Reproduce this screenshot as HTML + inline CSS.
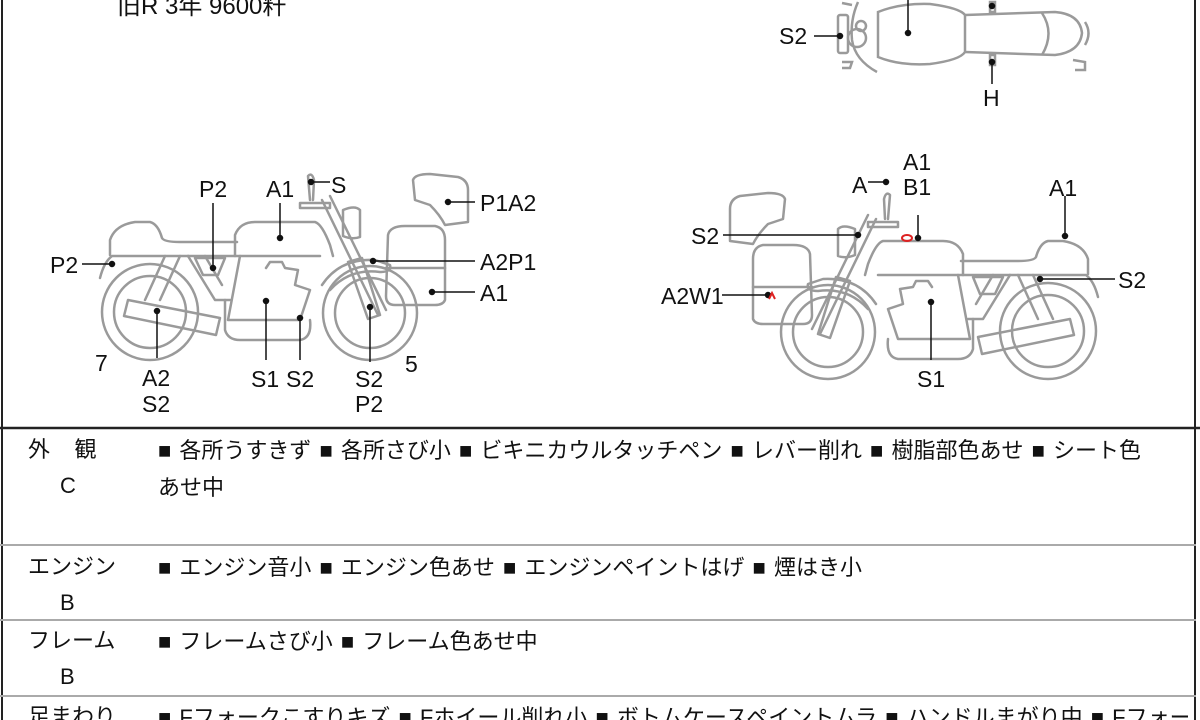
<!DOCTYPE html>
<html><head><meta charset="utf-8"><style>
html,body{margin:0;padding:0;background:#fff;}
body{width:1200px;height:720px;position:relative;overflow:hidden;font-family:"Liberation Sans","Noto Sans CJK JP",sans-serif;}
svg{position:absolute;left:0;top:0;}
.t{font-family:"Liberation Sans","Noto Sans CJK JP",sans-serif;font-size:23px;fill:#111;}
.row{position:absolute;left:0;width:1196px;font-size:22px;color:#111;overflow:hidden;}
.h{position:absolute;left:28px;width:100px;line-height:36px;}
.c{position:absolute;left:158px;width:1030px;line-height:37px;word-spacing:2px;white-space:nowrap;overflow:hidden;}
</style></head><body>
<svg width="1200" height="720" viewBox="0 0 1200 720">
<defs>
<g id="bike" fill="none" stroke="#9a9a9a" stroke-width="2.5" stroke-linejoin="round" stroke-linecap="round">
  <circle cx="150" cy="312" r="48"/><circle cx="150" cy="312" r="36"/>
  <circle cx="370" cy="313" r="47"/><circle cx="370" cy="313" r="35"/>
  <path d="M110 255 L110 240 Q115 225 135 222 L150 222 Q158 224 162 238 Q164 242 180 242 L237 242"/>
  <path d="M100 278 Q104 262 112 256 L320 256"/>
  <path d="M235 256 L235 235 Q240 222 255 222 L315 222 Q322 224 330 245 L333 256"/>
  <path d="M165 256 L145 300 M180 256 L160 300"/>
  <path d="M188 256 L215 300 L230 300 M205 256 L222 285"/>
  <path d="M195 258 L225 258 L218 275 L203 275 Z"/>
  <path d="M240 256 L228 320 L300 320 L310 290 L295 285 L298 270 L285 268 L282 262 L270 262 L266 268"/>
  <path d="M225 300 L225 330 Q228 340 240 340 L300 340 Q312 338 310 320"/>
  <path d="M128 300 L220 318 L216 335 L124 316 Z"/>
  <path d="M322 200 L378 315 M330 196 L386 310"/>
  <path d="M348 262 L362 258 L380 315 L368 319 Z"/>
  <path d="M300 203 L330 203 L330 208 L300 208 Z"/>
  <path d="M310 200 L308 176 Q312 172 314 180 L313 200"/>
  <path d="M343 210 Q355 205 360 210 L360 237 Q352 240 343 236 Z"/>
  <path d="M322 285 Q340 258 375 260 L390 265 Q392 272 380 272 Q350 268 330 290"/>
  <path d="M413 180 Q415 174 430 174 L458 177 Q468 180 468 190 L468 222 L445 225 Q440 215 430 205 L415 200 Z"/>
  <path d="M388 235 Q390 226 405 226 L435 226 Q445 228 445 240 L445 300 Q443 305 435 305 L395 305 Q386 305 386 296 Z"/>
  <path d="M386 268 L445 268"/>
</g>
</defs>
<text class="t" x="117" y="14" style="font-size:24px">旧R  3年     9600粁</text>
<line x1="2" y1="0" x2="2" y2="720" stroke="#222" stroke-width="2"/>
<line x1="1195" y1="0" x2="1195" y2="720" stroke="#222" stroke-width="2"/>

<g fill="none" stroke="#9a9a9a" stroke-width="2.5">
  <path d="M878 12 Q900 3 930 4 Q960 8 965 15 L965 52 Q960 60 930 64 Q900 66 878 57 Z"/>
  <path d="M965 15 L1055 12 Q1080 14 1082 33 Q1080 52 1055 55 L965 52"/>
  <path d="M1042 13 Q1055 33 1042 55"/>
  <path d="M1085 22 Q1092 33 1085 45"/>
  <path d="M858 2 Q850 20 852 40 Q855 60 877 72"/>
  <rect x="838" y="15" width="10" height="38" rx="2"/>
  <circle cx="857" cy="38" r="9"/><circle cx="861" cy="26" r="5"/>
  <path d="M842 3 L852 5 M842 62 L852 62 L850 68 L842 68"/>
  <path d="M1073 60 L1085 62 L1085 70 L1075 70"/>
  <rect x="990" y="2" width="5" height="10"/><rect x="990" y="55" width="5" height="10"/>
</g>
<g stroke="#111" stroke-width="1.5" fill="#111">
  <line x1="908" y1="0" x2="908" y2="33"/><circle cx="908" cy="33" r="2.5"/>
  <line x1="814" y1="36" x2="840" y2="36"/><circle cx="840" cy="36" r="2.5"/>
  <line x1="992" y1="62" x2="992" y2="84"/><circle cx="992" cy="62" r="2.5"/>
  <circle cx="992" cy="6" r="2.5"/>
</g>
<text class="t" x="779" y="44">S2</text>
<text class="t" x="983" y="106">H</text>

<use href="#bike"/>
<use href="#bike" transform="translate(1198,19) scale(-1,1)"/>

<g stroke="#111" stroke-width="1.5" fill="#111">
  <line x1="82" y1="264" x2="112" y2="264"/><circle cx="112" cy="264" r="2.5"/>
  <line x1="213" y1="203" x2="213" y2="268"/><circle cx="213" cy="268" r="2.5"/>
  <line x1="280" y1="203" x2="280" y2="238"/><circle cx="280" cy="238" r="2.5"/>
  <line x1="311" y1="182" x2="330" y2="182"/><circle cx="311" cy="182" r="2.5"/>
  <line x1="448" y1="202" x2="475" y2="202"/><circle cx="448" cy="202" r="2.5"/>
  <line x1="373" y1="261" x2="475" y2="261"/><circle cx="373" cy="261" r="2.5"/>
  <line x1="432" y1="292" x2="475" y2="292"/><circle cx="432" cy="292" r="2.5"/>
  <line x1="157" y1="311" x2="157" y2="358"/><circle cx="157" cy="311" r="2.5"/>
  <line x1="266" y1="301" x2="266" y2="360"/><circle cx="266" cy="301" r="2.5"/>
  <line x1="300" y1="318" x2="300" y2="360"/><circle cx="300" cy="318" r="2.5"/>
  <line x1="370" y1="307" x2="370" y2="362"/><circle cx="370" cy="307" r="2.5"/>
</g>
<text class="t" x="50" y="273">P2</text>
<text class="t" x="199" y="197">P2</text>
<text class="t" x="266" y="197">A1</text>
<text class="t" x="331" y="193">S</text>
<text class="t" x="480" y="211">P1A2</text>
<text class="t" x="480" y="270">A2P1</text>
<text class="t" x="480" y="301">A1</text>
<text class="t" x="95" y="371">7</text>
<text class="t" x="142" y="386">A2</text>
<text class="t" x="142" y="412">S2</text>
<text class="t" x="251" y="387">S1</text>
<text class="t" x="286" y="387">S2</text>
<text class="t" x="355" y="387">S2</text>
<text class="t" x="355" y="412">P2</text>
<text class="t" x="405" y="372">5</text>

<g stroke="#111" stroke-width="1.5" fill="#111">
  <line x1="868" y1="182" x2="886" y2="182"/><circle cx="886" cy="182" r="2.5"/>
  <line x1="918" y1="215" x2="918" y2="238"/><circle cx="918" cy="238" r="2.5"/>
  <line x1="1065" y1="196" x2="1065" y2="236"/><circle cx="1065" cy="236" r="2.5"/>
  <line x1="723" y1="235" x2="858" y2="235"/><circle cx="858" cy="235" r="2.5"/>
  <line x1="1040" y1="279" x2="1115" y2="279"/><circle cx="1040" cy="279" r="2.5"/>
  <line x1="722" y1="295" x2="768" y2="295"/><circle cx="768" cy="295" r="2.5"/>
  <line x1="931" y1="302" x2="931" y2="360"/><circle cx="931" cy="302" r="2.5"/>
</g>
<ellipse cx="907" cy="238" rx="5" ry="3" fill="none" stroke="#d22" stroke-width="2"/>
<path d="M769 299 L772 293 L775 299" fill="none" stroke="#d22" stroke-width="2"/>
<text class="t" x="903" y="170">A1</text>
<text class="t" x="903" y="195">B1</text>
<text class="t" x="852" y="193">A</text>
<text class="t" x="1049" y="196">A1</text>
<text class="t" x="691" y="244">S2</text>
<text class="t" x="1118" y="288">S2</text>
<text class="t" x="661" y="304">A2W1</text>
<text class="t" x="917" y="387">S1</text>

<line x1="0" y1="428" x2="1200" y2="428" stroke="#222" stroke-width="2.5"/>
<line x1="0" y1="545" x2="1196" y2="545" stroke="#aaa" stroke-width="2"/>
<line x1="0" y1="620" x2="1196" y2="620" stroke="#aaa" stroke-width="2"/>
<line x1="0" y1="696" x2="1196" y2="696" stroke="#aaa" stroke-width="2"/>
</svg>

<div class="row" style="top:432px;height:110px;">
  <div class="h">外&nbsp;&nbsp;&nbsp;&nbsp;観<br><span style="padding-left:32px">C</span></div>
  <div class="c">■ 各所うすきず ■ 各所さび小 ■ ビキニカウルタッチペン ■ レバー削れ ■ 樹脂部色あせ ■ シート色<br>あせ中</div>
</div>
<div class="row" style="top:549px;height:70px;">
  <div class="h">エンジン<br><span style="padding-left:32px">B</span></div>
  <div class="c">■ エンジン音小 ■ エンジン色あせ ■ エンジンペイントはげ ■ 煙はき小</div>
</div>
<div class="row" style="top:623px;height:72px;">
  <div class="h">フレーム<br><span style="padding-left:32px">B</span></div>
  <div class="c">■ フレームさび小 ■ フレーム色あせ中</div>
</div>
<div class="row" style="top:699px;height:21px;">
  <div class="h">足まわり</div>
  <div class="c">■ Fフォークこすりキズ ■ Fホイール削れ小 ■ ボトムケースペイントムラ ■ ハンドルまがり中 ■ Fフォーク</div>
</div>
</body></html>
